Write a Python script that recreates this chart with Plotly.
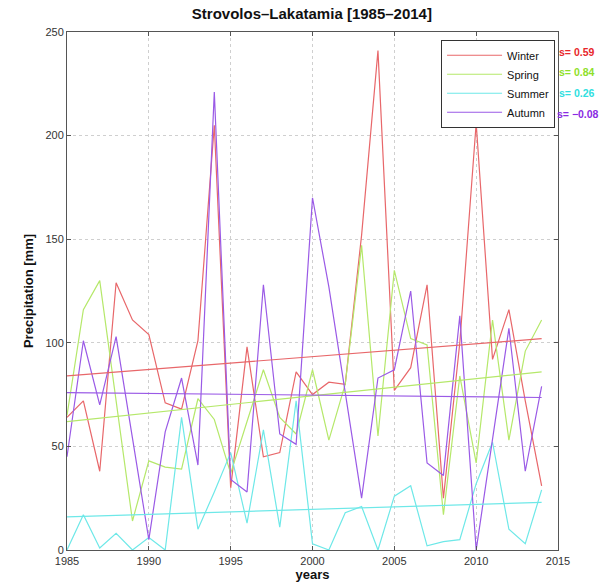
import plotly.graph_objects as go

years = list(range(1985, 2015))

winter = [64, 72, 38, 129, 111, 104, 71, 68, 101, 205,
          30, 98, 45, 47, 86, 75, 81, 80, 152, 241,
          77, 88, 128, 25, 100, 206, 92, 116, 72, 31]
spring = [65, 116, 130, 72, 14, 43, 40, 39, 73, 63,
          37, 62, 87, 64, 56, 87, 53, 80, 147, 55,
          135, 102, 99, 17, 84, 42, 111, 53, 96, 111]
summer = [0, 17, 1, 8, 0, 6, 0, 64, 10, 28,
          47, 13, 58, 11, 72, 3, 0, 18, 21, 0,
          26, 31, 2, 4, 5, 32, 52, 10, 3, 29]
autumn = [45, 101, 70, 103, 54, 5, 57, 83, 41, 221,
          34, 28, 128, 56, 51, 170, 127, 76, 25, 83,
          87, 125, 42, 36, 113, 0, 53, 107, 38, 79]

season_names = ["Winter", "Spring", "Summer", "Autumn"]
season_values = [winter, spring, summer, autumn]
line_colors = ["#e8676a", "#b5e86a", "#6ee8e8", "#9a5ae6"]
text_colors = ["#e8262b", "#8fdf2a", "#2fe0e0", "#8a2be2"]
slope_labels = ["s= 0.59", "s= 0.84", "s= 0.26", "s= \u22120.08"]

trend_years = [1985, 2014]
trend_start = [84, 62, 16, 76]
trend_end = [102, 86, 23, 73.6]

x_ticks = [1985, 1990, 1995, 2000, 2005, 2010, 2015]
y_ticks = [0, 50, 100, 150, 200, 250]

FONT = "Liberation Sans, Arial, Helvetica, sans-serif"

fig = go.Figure()
for name, vals, col in zip(season_names, season_values, line_colors):
    fig.add_trace(go.Scatter(x=years, y=vals, mode="lines", name=name,
                             line=dict(color=col, width=1.2)))
for name, s, e, col in zip(season_names, trend_start, trend_end, line_colors):
    fig.add_trace(go.Scatter(x=trend_years, y=[s, e], mode="lines",
                             showlegend=False, hoverinfo="skip",
                             line=dict(color=col, width=1.2)))

label_y = [0.961, 0.923, 0.882, 0.842]
for i, (lab, col, yy) in enumerate(zip(slope_labels, text_colors, label_y)):
    fig.add_annotation(x=1.0, y=yy, xref="paper", yref="paper",
                       xanchor="left", yanchor="middle", showarrow=False,
                       xshift=(-3 if i == 3 else -1),
                       text="<b>" + lab + "</b>",
                       font=dict(family=FONT, size=10.5, color=col))

axis_common = dict(showline=True, linecolor="#555555", linewidth=1, mirror="ticks",
                   ticks="inside", ticklen=4, tickcolor="#555555",
                   showgrid=True, gridcolor="#cfcfcf", griddash="dot", gridwidth=1,
                   zeroline=False, automargin=False,
                   tickfont=dict(family=FONT, size=11, color="#333333"))

fig.update_layout(
    width=614, height=588,
    margin=dict(l=67, r=56, t=32, b=38),
    paper_bgcolor="white", plot_bgcolor="white",
    title=dict(text="<b>Strovolos\u2013Lakatamia [1985\u20132014]</b>",
               x=0.508, xanchor="center", y=0.976, yanchor="middle",
               font=dict(family=FONT, size=15, color="#111111")),
    xaxis=dict(range=[1985, 2015], tickvals=x_ticks, ticklabelstandoff=1,
               title=dict(text="<b>years</b>", standoff=1,
                          font=dict(family=FONT, size=13, color="#111111")),
               **axis_common),
    yaxis=dict(range=[0, 250], tickvals=y_ticks,
               title=dict(text="<b>Precipitation [mm]</b>", standoff=8,
                          font=dict(family=FONT, size=13, color="#111111")),
               **axis_common),
    legend=dict(x=0.994, y=0.985, xanchor="right", yanchor="top",
                bgcolor="white", bordercolor="#333333", borderwidth=1,
                font=dict(family=FONT, size=11, color="#111111"),
                tracegroupgap=0, itemwidth=55),
    showlegend=True,
)

fig.write_html("out.html",
               config={"displayModeBar": False},
               post_script="document.body.style.margin='0';document.body.style.overflow='hidden';")
